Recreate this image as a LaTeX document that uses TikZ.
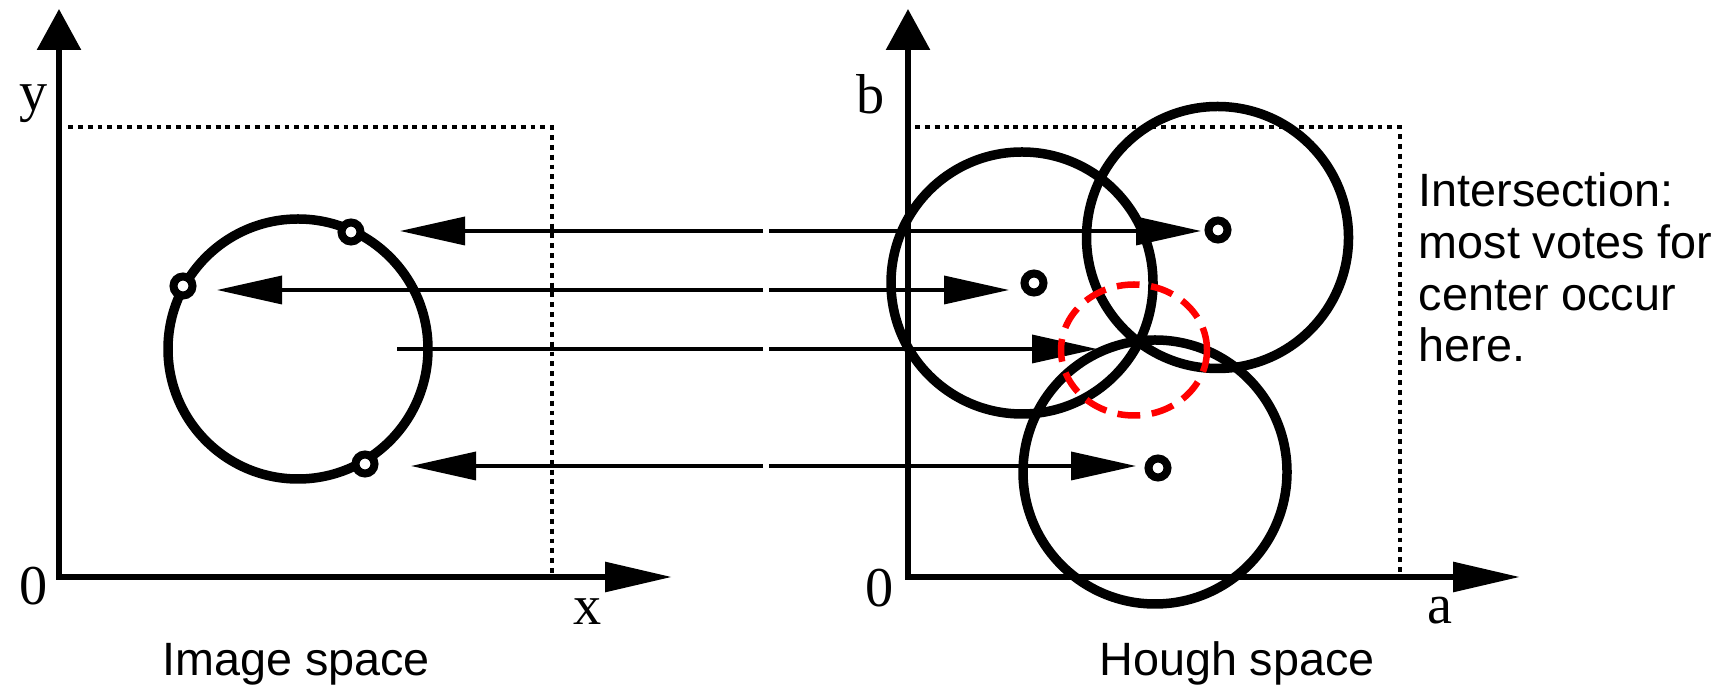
\documentclass[tikz,border=0pt]{standalone}
\usepackage{fontspec}
\setmainfont{Liberation Serif}
\setsansfont{Liberation Sans}
\usetikzlibrary{arrows.meta, positioning}
\definecolor{votered}{HTML}{FF0000}

\begin{document}
\begin{tikzpicture}[
    axis/.style={line width=0.06cm},
    guide/.style={line width=0.9pt, dash pattern=on 1.4pt off 1.4pt},
    vote/.style={line width=0.095cm},
    ray/.style={line width=1pt},
    rayhead/.style={ray, -{Triangle[length=0.65cm, width=0.28cm]}},
    ring/.style={circle, draw, line width=0.08cm, fill=white,
                 minimum size=0.19cm, inner sep=0pt},
    axlabel/.style={font=\fontsize{16}{16}\selectfont, inner sep=0pt},
    caption/.style={font=\sffamily\fontsize{13.3}{14.74}\selectfont, inner sep=0pt}
]
\useasboundingbox (0,0) rectangle (17.21,6.93);

% image space
\coordinate (O1) at (0.59,1.16);
\coordinate (Y1) at (0.59,6.84);
\coordinate (X1) at (6.72,1.16);
\draw[axis, {Triangle[length=0.41cm,width=0.43cm]}-{Triangle[length=0.67cm,width=0.29cm]}]
    (Y1) -- (O1) -- (X1);
\draw[guide] (0.68,5.66) -| (5.52,1.16);
\coordinate (L) at (2.98,3.44);
\draw[vote] (L) circle (1.30);

% hough space
\coordinate (O2) at (9.08,1.16);
\coordinate (Y2) at (9.08,6.84);
\coordinate (X2) at (15.20,1.16);
\draw[axis, {Triangle[length=0.41cm,width=0.43cm]}-{Triangle[length=0.67cm,width=0.29cm]}]
    (Y2) -- (O2) -- (X2);
\draw[guide] (9.15,5.66) -| (14.00,1.16);
\coordinate (A) at (10.22,4.10);
\coordinate (B) at (12.175,4.555);
\coordinate (C) at (11.55,2.21);
\draw[vote] (A) circle (1.31);
\draw[vote] (B) circle (1.31);
\draw[vote] (C) circle (1.32);

% rays between the two spaces
\coordinate (g1) at (7.63,4.62); \coordinate (h1) at (7.69,4.62);
\coordinate (g2) at (7.63,4.03); \coordinate (h2) at (7.69,4.03);
\coordinate (g3) at (7.63,3.44); \coordinate (h3) at (7.69,3.44);
\coordinate (g4) at (7.63,2.27); \coordinate (h4) at (7.69,2.27);
\coordinate (t1) at (4.00,4.62); \coordinate (s1) at (12.01,4.62);
\coordinate (t2) at (2.17,4.03); \coordinate (s2) at (10.09,4.03);
\coordinate (t3) at (3.97,3.44); \coordinate (s3) at (10.97,3.44);
\coordinate (t4) at (4.11,2.27); \coordinate (s4) at (11.36,2.27);

\draw[rayhead] (g1) -- (t1);
\draw[rayhead] (g2) -- (t2);
\draw[ray]     (g3) -- (t3);
\draw[rayhead] (g4) -- (t4);
\draw[rayhead] (h1) -- (s1);
\draw[rayhead] (h2) -- (s2);
\draw[rayhead] (h3) -- (s3);
\draw[rayhead] (h4) -- (s4);

% edge points and candidate centres
\node[ring] (p1) at (3.51,4.61) {};
\node[ring] (p2) at (1.83,4.07) {};
\node[ring] (p3) at (3.65,2.29) {};
\node[ring] (cB) at (12.18,4.63) {};
\node[ring] (cA) at (10.34,4.10) {};
\node[ring] (cC) at (11.58,2.25) {};

\draw[votered, line width=0.065cm, dash pattern=on 6.5pt off 3.3pt]
    (11.34,3.43) ellipse [x radius=0.73, y radius=0.655];

\node[axlabel] (ly)  at (0.34,5.89)  {y};
\node[axlabel] (lo1) at (0.34,1.07)  {0};
\node[axlabel] (lx)  at (5.88,0.81)  {x};
\node[axlabel] (lb)  at (8.71,5.99)  {b};
\node[axlabel] (lo2) at (8.80,1.05)  {0};
\node[axlabel] (la)  at (14.40,0.82) {a};

\node[caption, anchor=base] (imgcap)   at (2.96,0.18)  {Image space};
\node[caption, anchor=base] (houghcap) at (12.37,0.18) {Hough space};
\node[caption, anchor=north west, align=left] (note) at (14.18,5.21)
    {Intersection:\\most votes for\\center occur\\here.};
\end{tikzpicture}
\end{document}
